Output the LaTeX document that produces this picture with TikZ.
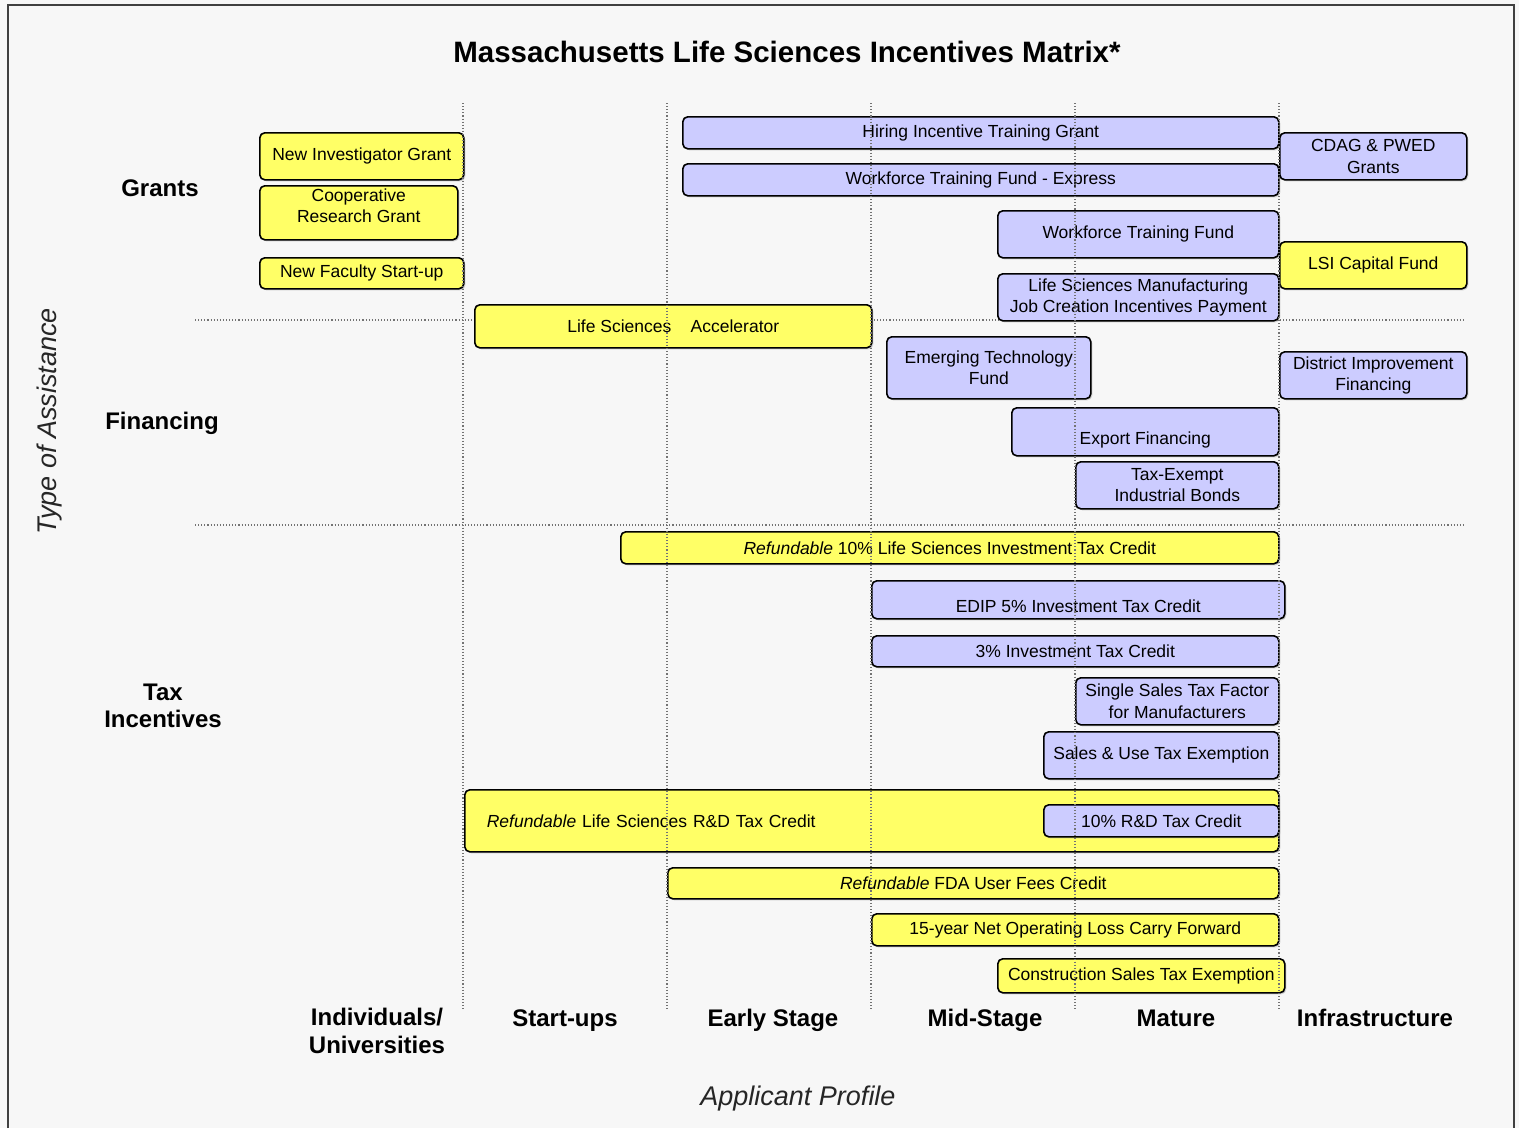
\documentclass[tikz,border=0pt]{standalone}
\usepackage{fontspec}
\setmainfont{Liberation Sans}
\usetikzlibrary{shadows}

\definecolor{bgpaper}{HTML}{F7F7F7}
\definecolor{ylw}{HTML}{FFFF66}
\definecolor{lav}{HTML}{CCCCFF}

\begin{document}
\begin{tikzpicture}[%
    x=1pt, y=-1pt,              % pixel units, counted from the top
    ]
% -------------------------------------------------
% Box and label styles
\tikzset{
  base/.style={draw=black, line width=1.6pt, rounded corners=5pt,
    anchor=north west, align=center, inner sep=2pt,
    font=\fontsize{17.5}{21.5}\selectfont,
    drop shadow={shadow xshift=1.5pt, shadow yshift=-1.5pt, fill=black!35, opacity=.5}},
  yb/.style={base, fill=ylw},     % yellow boxes
  bb/.style={base, fill=lav},     % lavender boxes
  wh/.style 2 args={minimum width=#1pt, minimum height=#2pt},
  low/.style={text height=30pt, text depth=4pt},  % text sits low in box
  grid/.style={black!55, dotted, line width=1.1pt},
  rowlab/.style={font=\bfseries\fontsize{24}{27}\selectfont, align=center},
  collab/.style={font=\bfseries\fontsize{24}{28}\selectfont, align=center},
  axlab/.style={font=\itshape\fontsize{27}{30}\selectfont, text=black!85}
}
% -------------------------------------------------
% Paper and frame
\useasboundingbox (0,0) rectangle (1519,1128);
\fill[bgpaper] (0,0) rectangle (1519,1128);
\draw[black!75, line width=2pt] (8,1128) -- (8,5) -- (1514,5) -- (1514,1128);

% Title
\node[font=\bfseries\fontsize{29.5}{33}\selectfont] (title) at (787,52)
  {Massachusetts Life Sciences Incentives Matrix*};

% Row separators (behind the boxes)
\draw[grid] (195,320) -- (1465,320);
\draw[grid] (195,525) -- (1465,525);

% -------------------------------------------------
% Grants
\node[yb, wh={204}{47}] (nig) at (259,132) {New Investigator Grant};
\node[yb, wh={198}{54}, text depth=14pt] (crg) at (259,185) {Cooperative\\Research Grant};
\node[yb, wh={204}{31}] (nfs) at (259,257) {New Faculty Start-up};
\node[bb, wh={596}{32}] (hitg) at (682,116) {Hiring Incentive Training Grant};
\node[bb, wh={596}{32}] (wtfe) at (682,163) {Workforce Training Fund - Express};
\node[bb, wh={187}{47}] (cdag) at (1279,132) {CDAG \& PWED\\Grants};
\node[bb, wh={281}{47}] (wtf) at (997,210) {Workforce Training Fund};
\node[yb, wh={187}{47}] (lsi) at (1279,241) {LSI Capital Fund};
\node[bb, wh={281}{47}] (lsm) at (997,273)
  {Life Sciences Manufacturing\\Job Creation Incentives Payment};

% Financing
\node[yb, wh={397}{43}] (lsa) at (474,304) {Life Sciences\hspace{1.1em}Accelerator};
\node[bb, wh={204}{62}] (etf) at (886,336) {Emerging Technology\\Fund};
\node[bb, wh={187}{47}] (dif) at (1279,351) {District Improvement\\Financing};
\node[bb, wh={267}{48}, low] (exf) at (1011,407) {Export Financing};
\node[bb, wh={203}{47}] (teb) at (1075,461) {Tax-Exempt\\Industrial Bonds};

% Tax incentives
\node[yb, wh={658}{32}] (ritc) at (620,531)
  {\textit{Refundable} 10\% Life Sciences Investment Tax Credit};
\node[bb, wh={413}{36}, low] (edip) at (871,580) {EDIP 5\% Investment Tax Credit};
\node[bb, wh={407}{31}] (itc) at (871,635) {3\% Investment Tax Credit};
\node[bb, wh={203}{47}] (sst) at (1075,677) {Single Sales Tax Factor\\for Manufacturers};
\node[bb, wh={235}{47}] (sut) at (1043,731) {Sales \& Use Tax Exemption};
\node[yb, wh={814}{62}, text width=770pt, inner xsep=22pt, align=left] (rrd) at (464,789)
  {\textit{Refundable} Life Sciences R\&D Tax Credit};
\node[bb, wh={235}{32}] (rd) at (1043,804) {10\% R\&D Tax Credit};
\node[yb, wh={611}{31}] (fda) at (667,867) {\textit{Refundable} FDA User Fees Credit};
\node[yb, wh={407}{32}] (nol) at (871,913) {15-year Net Operating Loss Carry Forward};
\node[yb, wh={287}{34}] (cst) at (997,958) {Construction Sales Tax Exemption};

% Column separators (over the boxes)
\draw[grid] (463,103) -- (463,1010);
\draw[grid] (667,103) -- (667,1010);
\draw[grid] (871,103) -- (871,1010);
\draw[grid] (1075,103) -- (1075,1010);
\draw[grid] (1279,103) -- (1279,1010);

% -------------------------------------------------
% Axis and row labels
\node[rowlab] (grants) at (160,188) {Grants};
\node[rowlab] (fin) at (162,423) {Financing};
\node[rowlab] (tax) at (163,706) {Tax\\Incentives};
\node[axlab, rotate=90] (toa) at (50,421) {Type of Assistance};

\node[collab] (ind) at (377,1031) {Individuals/\\Universities};
\node[collab, anchor=base] (start) at (565,1026) {Start-ups};
\node[collab, anchor=base] (early) at (773,1026) {Early Stage};
\node[collab, anchor=base] (mid) at (985,1026) {Mid-Stage};
\node[collab, anchor=base] (mat) at (1176,1026) {Mature};
\node[collab, anchor=base] (infra) at (1375,1026) {Infrastructure};
\node[axlab] (ap) at (798,1099) {Applicant Profile};
% -------------------------------------------------
\end{tikzpicture}
\end{document}
